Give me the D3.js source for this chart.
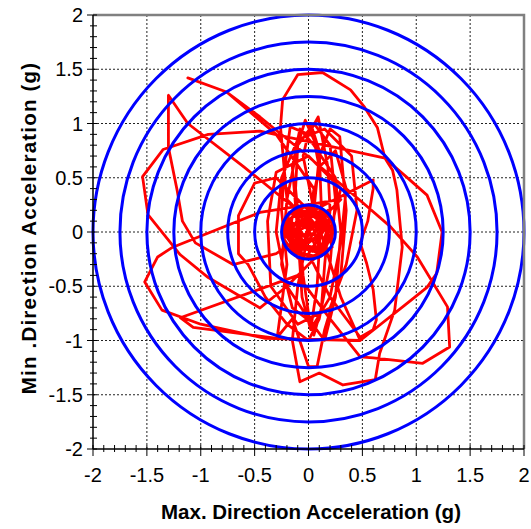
<!DOCTYPE html>
<html><head><meta charset="utf-8">
<script src="https://cdn.jsdelivr.net/npm/d3@7"></script>
<style>body{margin:0;background:#fff}svg{display:block}</style>
</head><body>
<svg id="c" width="531" height="529"></svg>
<script>
const xTicks = [-2,-1.5,-1,-0.5,0,0.5,1,1.5,2];
const yTicks = [-2,-1.5,-1,-0.5,0,0.5,1,1.5,2];
const circleRadii = [0.25,0.5,0.75,1.0,1.25,1.5,1.75,2.0];
const xTitle = "Max. Direction Acceleration (g)";
const yTitle = "Min .Direction Acceleration (g)";
// orbit of acceleration (x = max direction, y = min direction), in g
const orbitX = [0,0.05,-0.06,-0.12,-0.04,0.1,0.14,0.02,-0.15,-0.18,-0.06,0.12,0.18,0.08,-0.1,-0.2,-0.14,0.04,0.16,0.2,0.1,-0.08,-0.16,-0.1,0.06,0.18,0.15,-0.02,-0.18,-0.22,-0.12,0,0.08,-0.05,0.12,0.22,0.1,-0.08,-0.2,-0.05,
 0.05,0.1,0.05,-0.03,-0.1,-0.12,-0.08,-0.05,0,0.05,0.12,0.15,0.2,0.18,0.09,0,-0.17,-0.22,-0.25,-0.2,-0.29,-0.15,0,0.08,0.15,0.3,0.35,0.29,0.2,0.1,0.05,
 -0.05,0.02,0.1,0.12,0.08,0.02,-0.06,-0.1,-0.15,-0.08,0.05,0.25,0.3,0.25,0.15,0,-0.2,-0.3,-0.25,-0.1,0.15,0.4,0.45,0.35,0.2,-0.1,-0.35,-0.38,-0.3,0,0.3,0.2,
 -0.3,-0.5,-0.65,-0.65,-0.56,-0.4,-0.2,0,0.1,0.2,0.25,0.2,0.05,-0.1,-0.2,-0.25,-0.15,0.05,0.2,0.3,0.35,0.25,0.1,0,
 -0.2,-0.26,-0.24,-0.1,0.13,0.39,0.52,0.64,0.71,0.78,0.82,0.87,0.8,0.66,0.62,0.32,0.1,-0.08,-0.15,-0.1,0,
 0.3,-0.45,-1.26,-1.4,-1.52,-1.36,-1,-0.4,0.48,0.9,1.1,1.19,1.24,1.1,0.94,0.71,-0.45,-0.93,-1.35,-1.54,-1.49,-1.19,-0.93,-0.45,-0.2,0.1,
 -0.1,-0.6,-1.12,-1.3,-1.3,-1.22,-1.17,-1.05,-0.7,-0.3,0,
 0.05,-0.3,-0.76,-1.12,-0.76,-0.45,-0.08,0.48,0.76,1.01,1.29,1.31,1.06,0.6,0.48,0.2,-0.1,
 -1.19,-1.07,-0.29,0.48,0.3,0.05,0.6,0.6,0.55,0.48,0.54,0.6,0.63,0.6,0.48,0.2,0,
 0.1,0.2,0.05,-0.15,-0.05,0.1,0.05,-0.1,0.02,0.12,0.0,-0.08,0.05,0.1,-0.02,
 0.18,0.24,0.12,-0.1,-0.24,-0.2,-0.02,0.15,0.22,0.05,-0.14,-0.22,-0.1,0.08,0.2,0.1,-0.05,0];
const orbitY = [0,0.08,0.12,0.02,-0.1,-0.06,0.08,0.16,0.14,-0.04,-0.16,-0.14,0.04,0.18,0.2,0.06,-0.12,-0.18,-0.08,0.12,0.22,0.16,0,-0.2,-0.22,-0.1,0.15,0.24,0.18,-0.02,-0.16,-0.08,0.04,0.1,0.2,0,-0.2,-0.12,0.1,0.05,
 0.3,0.6,0.85,1.03,0.8,0.4,0,-0.4,-0.75,-0.95,-0.7,-0.3,0.2,0.6,1.06,0.9,0.97,0.6,0.2,-0.3,-0.97,-0.8,-1.24,-1.24,-0.9,-0.4,0.2,0.88,0.95,0.7,0.2,
 0.7,1.0,0.75,0.2,-0.5,-0.9,-0.6,0,0.6,0.95,0.8,0.5,0,-0.6,-1.0,-0.8,-0.5,0,0.5,0.85,0.95,0.7,0.2,-0.3,-0.7,-0.85,-0.5,0.1,0.55,0.7,0.4,0,
 0.5,0.45,0.15,-0.2,-0.3,-0.6,-0.85,-1.0,-0.8,-0.3,0.3,0.8,1.0,0.8,0.3,-0.3,-0.7,-0.85,-0.6,-0.1,0.4,0.75,0.6,0.1,
 0.3,0.97,1.22,1.45,1.47,1.31,1.15,0.96,0.68,0.57,0.39,-0.14,-0.72,-1.12,-1.36,-1.41,-1.3,-1.38,-1.0,-0.5,0,
 0.3,0.18,-0.14,-0.23,-0.46,-0.72,-0.85,-0.98,-1.0,-0.67,-0.51,-0.38,0,0.34,0.48,0.68,0.93,0.9,0.76,0.51,0.16,-0.21,-0.42,-0.7,-0.5,-0.2,
 0.2,0.6,1.0,1.26,0.78,0.39,0.1,-0.1,-0.3,-0.2,0,
 0.4,0.9,1.29,1.42,1.29,1.06,0.76,0.29,0.05,-0.23,-0.69,-1.06,-1.21,-1.16,-1.15,-0.8,-0.4,
 -0.79,-0.88,-0.98,-1.0,-0.6,0.2,0.48,0.4,0.1,-0.1,-0.29,-0.53,-0.81,-0.9,-0.97,-0.6,-0.2,
 -0.05,0.1,0.15,0.05,-0.12,-0.15,0.02,0.1,0.12,0.0,-0.1,0.02,0.08,-0.04,0,
 0.2,0.02,-0.22,-0.24,-0.05,0.15,0.24,0.1,-0.14,-0.22,-0.18,0.06,0.2,0.16,-0.06,-0.2,-0.1,0];

const svg = d3.select("#c");
const L=93,R=524,T=15,B=449;
const FONT = "Liberation Sans, Arial, sans-serif";
const x = d3.scaleLinear().domain([-2,2]).range([L,R]);
const y = d3.scaleLinear().domain([-2,2]).range([B,T]);

// grid
const g = svg.append("g");
xTicks.slice(1,-1).forEach(v=>{
  g.append("line").attr("x1",x(v)).attr("x2",x(v)).attr("y1",T).attr("y2",B)
   .attr("stroke","#222").attr("stroke-width",1).attr("stroke-dasharray","2,2");
});
yTicks.slice(1,-1).forEach(v=>{
  g.append("line").attr("y1",y(v)).attr("y2",y(v)).attr("x1",L).attr("x2",R)
   .attr("stroke","#222").attr("stroke-width",1).attr("stroke-dasharray","2,2");
});

svg.append("defs").append("clipPath").attr("id","clip").append("rect")
  .attr("x",L-2).attr("y",T-2).attr("width",R-L+4).attr("height",B-T+4);

const plot = svg.append("g").attr("clip-path","url(#clip)");
const pts = orbitX.map((v,i)=>[v,orbitY[i]]);
plot.append("path").datum(pts)
  .attr("d", d3.line().x(d=>x(d[0])).y(d=>y(d[1])))
  .attr("fill","none").attr("stroke","#ff0000").attr("stroke-width",2.8)
  .attr("stroke-linejoin","round");

plot.selectAll("ellipse.c").data(circleRadii).join("ellipse")
  .attr("cx",x(0)).attr("cy",y(0))
  .attr("rx",d=>x(d)-x(0)).attr("ry",d=>y(0)-y(d))
  .attr("fill","none").attr("stroke","#0000ff").attr("stroke-width",3);

// frame top/right
svg.append("path").attr("d",`M${L},${T}H${R}V${B}`).attr("fill","none")
  .attr("stroke","#808080").attr("stroke-width",2.5);

// axes
const minor = d3.range(-2,2.0001,0.1).map(v=>+v.toFixed(1));
const xAxis = svg.append("g");
xAxis.append("line").attr("x1",L).attr("x2",R).attr("y1",B).attr("y2",B).attr("stroke","#000").attr("stroke-width",1.5);
minor.forEach(v=>{
  const major = xTicks.some(t=>Math.abs(t-v)<1e-6);
  xAxis.append("line").attr("x1",x(v)).attr("x2",x(v)).attr("y1",B-4).attr("y2",B+(major?7:3))
   .attr("stroke","#000").attr("stroke-width",1);
});
xTicks.forEach(v=>{
  xAxis.append("text").attr("x",x(v)).attr("y",B+33).attr("text-anchor","middle")
   .attr("font-family",FONT).attr("font-size",20).text(v);
});
const yAxis = svg.append("g");
yAxis.append("line").attr("x1",L).attr("x2",L).attr("y1",T).attr("y2",B).attr("stroke","#000").attr("stroke-width",1.5);
minor.forEach(v=>{
  const major = yTicks.some(t=>Math.abs(t-v)<1e-6);
  yAxis.append("line").attr("x1",L-(major?6:3)).attr("x2",L+4).attr("y1",y(v)).attr("y2",y(v))
   .attr("stroke","#000").attr("stroke-width",1);
});
yTicks.forEach(v=>{
  yAxis.append("text").attr("x",L-10).attr("y",y(v)+7).attr("text-anchor","end")
   .attr("font-family",FONT).attr("font-size",20).text(v);
});
svg.append("text").attr("x",311).attr("y",519).attr("text-anchor","middle")
  .attr("font-family",FONT).attr("font-weight","bold").attr("font-size",20.5).text(xTitle);
svg.append("text").attr("transform","translate(36,228) rotate(-90)").attr("text-anchor","middle")
  .attr("font-family",FONT).attr("font-weight","bold").attr("font-size",20.5)
  .attr("letter-spacing",1.2).text(yTitle);
</script>
</body></html>
